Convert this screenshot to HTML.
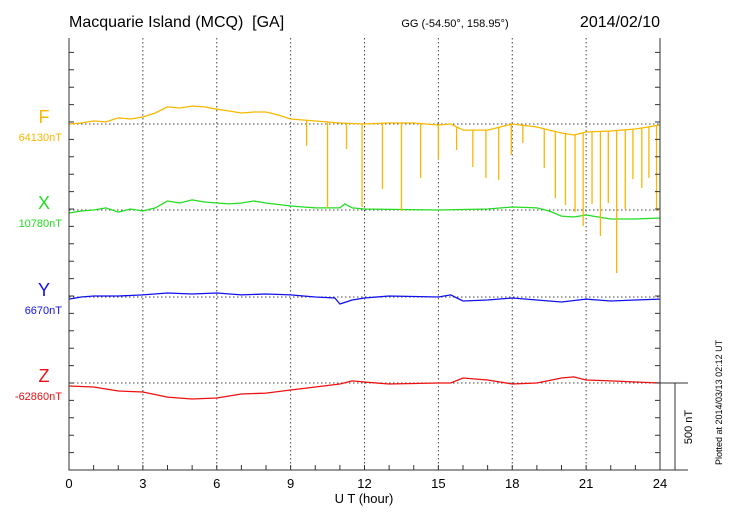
<!DOCTYPE html>
<html><head><meta charset="utf-8"><style>
body{margin:0;background:#fff;}
svg{font-family:"Liberation Sans",sans-serif;display:block;}
</style></head><body>
<svg id="chart" width="730" height="520" viewBox="0 0 730 520">
<text x="69" y="27" font-size="16" xml:space="preserve">Macquarie Island (MCQ)  [GA]</text>
<text x="455" y="27" font-size="11" text-anchor="middle">GG (-54.50°, 158.95°)</text>
<text x="660" y="27" font-size="16" text-anchor="end">2014/02/10</text>
<text x="364" y="503" font-size="13" text-anchor="middle">U T (hour)</text>
<text transform="translate(722,465) rotate(-90)" font-size="9">Plotted at 2014/03/13 02:12 UT</text>
<g id="grid"></g><g id="series"></g><g id="axes"></g>
</svg>
<script>
const hours=[0,0.5,1,1.5,2,2.5,3,3.5,4,4.5,5,5.5,6,6.5,7,7.5,8,8.5,9,10,11,12,13,14,15,15.5,16,17,18,19,19.5,20,20.5,21,22,23,24];
const fVals=[0,6,17,12,35,29,40,63,98,92,103,98,85,75,63,69,69,52,29,17,6,0,6,6,-6,0,-35,-35,0,-17,-35,-52,-63,-46,-40,-29,-6];
const xHours=[0,0.5,1,1.5,2,2.5,3,3.5,4,4.5,5,5.5,6,6.5,7,7.5,8,9,10,11,11.2,11.5,12,15,17,18,19,19.5,20,20.5,21,22,23,24];
const xVals=[-17,-6,0,12,-12,6,-6,12,52,40,58,46,40,35,40,52,40,23,12,12,35,12,6,0,6,17,12,-6,-35,-40,-29,-52,-52,-46];
const yHours=[0,0.5,1,2,3,4,5,6,7,8,9,10,10.8,11,11.5,12,13,15,15.5,16,17,18,19,20,21,22,23,24];
const yVals=[-12,0,6,6,12,23,17,23,12,17,12,0,-6,-40,-17,-6,6,0,12,-23,-17,-6,-17,-29,-12,-23,-17,-12];
const zHours=[0,1,2,3,4,5,6,7,8,9,10,11,11.5,12,13,15,15.5,16,17,18,19,20,20.5,21,22,23,24];
const zVals=[-17,-23,-46,-52,-81,-92,-86,-63,-58,-40,-23,-6,12,6,-6,0,0,29,17,-6,0,29,35,17,12,6,0];
const spikeHours=[9.65,10.5,11.27,11.9,12.73,13.5,14.28,15.0,15.74,16.4,16.93,17.45,17.96,18.43,19.3,19.75,20.16,20.55,20.88,21.24,21.58,21.9,22.24,22.59,22.9,23.26,23.55,23.86];
const spikeVals=[-126,-483,-144,-477,-374,-500,-310,-201,-149,-247,-310,-322,-178,-109,-253,-425,-466,-506,-586,-460,-644,-454,-856,-489,-316,-368,-310,-500];
const xTicks=[0,3,6,9,12,15,18,21,24];
const components=['F','X','Y','Z'];
const baseLabels=['64130nT','10780nT','6670nT','-62860nT'];
const colors=['#f8b800','#22dd22','#1010ee','#ee1010'];

const X0=69,X1=660,TOP=38,BOT=470,BASES=[124,210,297,383],K=0.174;
const sx=h=>X0+(X1-X0)*h/24;
const sy=(i,v)=>BASES[i]-v*K;
const NS='http://www.w3.org/2000/svg';
function mk(tag,attrs,parent){const e=document.createElementNS(NS,tag);for(const k in attrs)e.setAttribute(k,attrs[k]);parent.appendChild(e);return e;}
const grid=document.getElementById('grid'),ser=document.getElementById('series'),ax=document.getElementById('axes');

xTicks.forEach((t,i)=>{
  if(i>0&&i<xTicks.length-1){const l=mk('line',{x1:sx(t),x2:sx(t),y1:TOP,y2:BOT,stroke:'#444','stroke-dasharray':'1.5,2.5','stroke-width':1},grid);
  
  }
  const tx=mk('text',{x:sx(t),y:488,'font-size':13,'text-anchor':'middle'},ax);tx.textContent=t;
  
  
});
BASES.forEach((b,i)=>{
  const l=mk('line',{x1:X0,x2:X1,y1:b,y2:b,stroke:'#444','stroke-dasharray':'1.5,2.5','stroke-width':1},grid);
  
  
  const n=mk('text',{x:44,y:b-1,'font-size':18,'text-anchor':'middle',fill:colors[i]},ax);n.textContent=components[i];
  
  
  const bl=mk('text',{x:62,y:b+17,'font-size':11,'text-anchor':'end',fill:colors[i]},ax);bl.textContent=baseLabels[i];
  
  
});
let d='';
d+=`M${X0},${TOP}V${BOT}H${X1}V${TOP}`;
for(let h=0;h<=24;h++){d+=`M${sx(h)},${BOT}v-5`;}
for(let y=BOT;y>=TOP;y-=(BOT-BASES[3])/5){d+=`M${X0},${y}h5M${X1},${y}h-5`;}
const fr=mk('path',{d:d,fill:'none',stroke:'#333','stroke-width':1},ax);


const sb=mk('path',{d:`M${X1},${BASES[3]}H688M675,${BASES[3]}V${BOT}M${X1},${BOT}H688`,fill:'none',stroke:'#333','stroke-width':1},ax);


const st=mk('text',{transform:`translate(692,427) rotate(-90)`,'font-size':11,'text-anchor':'middle'},ax);st.textContent='500 nT';



function line(i,hs,vs,name){
  const p=hs.map((h,j)=>`${j?'L':'M'}${sx(h).toFixed(1)},${sy(i,vs[j]).toFixed(1)}`).join('');
  const e=mk('path',{d:p,fill:'none',stroke:colors[i],'stroke-width':1.3},ser);
  
  
}
line(0,hours,fVals,'series-f');
line(1,xHours,xVals,'series-x');
line(2,yHours,yVals,'series-y');
line(3,zHours,zVals,'series-z');
function fAt(h){for(let j=1;j<hours.length;j++){if(h<=hours[j]){const t=(h-hours[j-1])/(hours[j]-hours[j-1]);return fVals[j-1]+t*(fVals[j]-fVals[j-1]);}}return fVals[fVals.length-1];}
spikeHours.forEach((h,j)=>{
  const e=mk('line',{x1:sx(h),x2:sx(h),y1:sy(0,fAt(h)),y2:sy(0,spikeVals[j]),stroke:colors[0],'stroke-width':1.3},ser);
  
  
});
</script>
</body></html>
